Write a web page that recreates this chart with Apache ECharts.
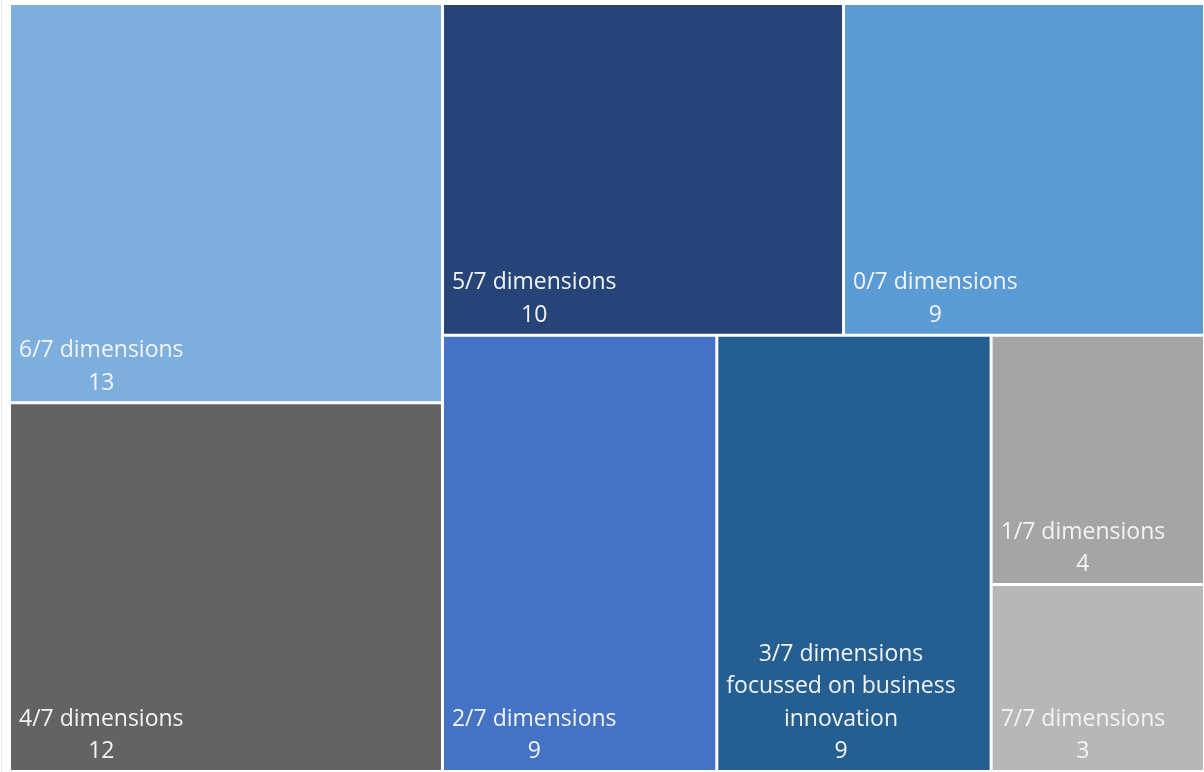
<!DOCTYPE html>
<html>
<head>
<meta charset="utf-8">
<script src="https://cdn.jsdelivr.net/npm/echarts@6/dist/echarts.min.js"></script>
<style>
  html, body { margin: 0; padding: 0; background: #fff; }
  #wrap { position: relative; width: 1204px; height: 772px; }
  #wrap:before { content: ''; position: absolute; left: 1px; top: 0; width: 1px; height: 772px; background: #e2e2e2; }
  #main { width: 1204px; height: 772px; }
</style>
</head>
<body>
<div id="wrap"><div id="main"></div></div>
<script>
// categories and counts, in layout order (largest first)
var names = ['6/7 dimensions', '4/7 dimensions', '5/7 dimensions', '0/7 dimensions',
  '2/7 dimensions', '3/7 dimensions\nfocussed on business\ninnovation', '1/7 dimensions', '7/7 dimensions'];
var counts = [13, 12, 10, 9, 9, 9, 4, 3];
var colors = ['#7CAFDD', '#636363', '#264478', '#5B9BD5', '#4472C4', '#255E91', '#A5A5A5', '#B7B7B7'];

var FONT = 'Open Sans';
var FONT_SIZE = 23;
var LINE_H = 32.5;

var treeData = names.map(function (n, i) {
  return { name: n, value: counts[i], itemStyle: { color: colors[i] } };
});

// measure label lines so the block sits bottom-left with centred lines (like Excel)
var ctx = document.createElement('canvas').getContext('2d');
ctx.font = FONT_SIZE + 'px "' + FONT + '"';
function maxLineWidth(text) {
  return Math.max.apply(null, text.split('\n').map(function (l) {
    return ctx.measureText(l).width;
  }));
}

var myChart = echarts.init(document.getElementById('main'));
myChart.setOption({
  animation: false,
  series: [{
    type: 'treemap',
    left: 11,
    top: 5,
    right: 1,
    bottom: 2,
    roam: false,
    nodeClick: false,
    sort: false,
    squareRatio: 1,
    breadcrumb: { show: false },
    levels: [{
      itemStyle: { borderWidth: 0, gapWidth: 3, borderColor: '#fff' }
    }],
    itemStyle: { borderWidth: 0 },
    label: {
      show: true,
      padding: 0,
      formatter: '{b}\n{c}',
      color: '#F4F4F4',
      fontFamily: FONT,
      fontSize: FONT_SIZE,
      lineHeight: LINE_H,
      align: 'center'
    },
    labelLayout: function (p) {
      var r = p.rect;
      var nLines = p.text.split('\n').length;
      return {
        x: r.x + 8 + maxLineWidth(p.text) / 2,
        y: r.y + r.height - 2 - nLines * LINE_H,
        align: 'center',
        verticalAlign: 'top'
      };
    },
    data: treeData
  }]
});
</script>
</body>
</html>
